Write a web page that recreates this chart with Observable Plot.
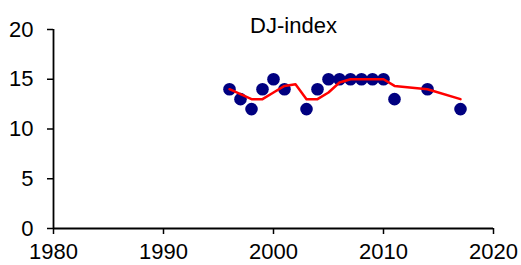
<!DOCTYPE html>
<html>
<head>
<meta charset="utf-8">
<script src="https://cdn.jsdelivr.net/npm/d3@7"></script>
<script src="https://cdn.jsdelivr.net/npm/@observablehq/plot@0.6"></script>
<style>
  html, body { margin: 0; padding: 0; background: #fff; }
  #chart svg { display: block; }
</style>
</head>
<body>
<div id="chart"></div>
<script>
const title = "DJ-index";
const pointYears = [1996,1997,1998,1999,2000,2001,2003,2004,2005,2006,2007,2008,2009,2010,2011,2014,2017];
const pointValues = [14,13,12,14,15,14,12,14,15,15,15,15,15,15,13,14,12];
const lineYears = [1996,1997,1998,1999,2000,2001,2002,2003,2004,2005,2006,2007,2008,2009,2010,2011,2014,2017];
const lineValues = [14,13.5,13,13,13.67,14.33,14.5,13,13,13.67,14.67,15,15,15,15,14.33,14,13];
const xTicks = [1980,1990,2000,2010,2020];
const yTicks = [0,5,10,15,20];

const points = pointYears.map((x, i) => ({x, y: pointValues[i]}));
const line = lineYears.map((x, i) => ({x, y: lineValues[i]}));

const chart = Plot.plot({
  width: 521,
  height: 265,
  marginLeft: 53,
  marginRight: 28,
  marginTop: 29,
  marginBottom: 37,
  style: {background: "#fff", color: "#000", fontFamily: "'Liberation Sans', Arial, sans-serif", fontSize: "22px"},
  x: {domain: [1980, 2020], label: null},
  y: {domain: [0, 20], label: null},
  marks: [
    Plot.axisX({ticks: xTicks, tickFormat: d => String(d), tickSize: 6, tickPadding: 9, strokeWidth: 1.5, fontSize: 22, fill: "#000", label: null}),
    Plot.axisY({ticks: yTicks, tickSize: 6, tickPadding: 14, strokeWidth: 1.5, fontSize: 22, fill: "#000", label: null}),
    Plot.ruleX([1980], {y1: 0, y2: 20, stroke: "#000", strokeWidth: 1.8}),
    Plot.ruleY([0], {x1: 1980, x2: 2020, stroke: "#000", strokeWidth: 1.8}),
    Plot.dot(points, {x: "x", y: "y", r: 6.3, fill: "#000080", stroke: "none"}),
    Plot.line(line, {x: "x", y: "y", stroke: "#ff0000", strokeWidth: 2.5}),
    Plot.text([title], {frameAnchor: "top", dx: 20, dy: -3.5, lineAnchor: "middle", fontSize: 22, fill: "#000"})
  ]
});
document.getElementById("chart").appendChild(chart);
</script>
</body>
</html>
